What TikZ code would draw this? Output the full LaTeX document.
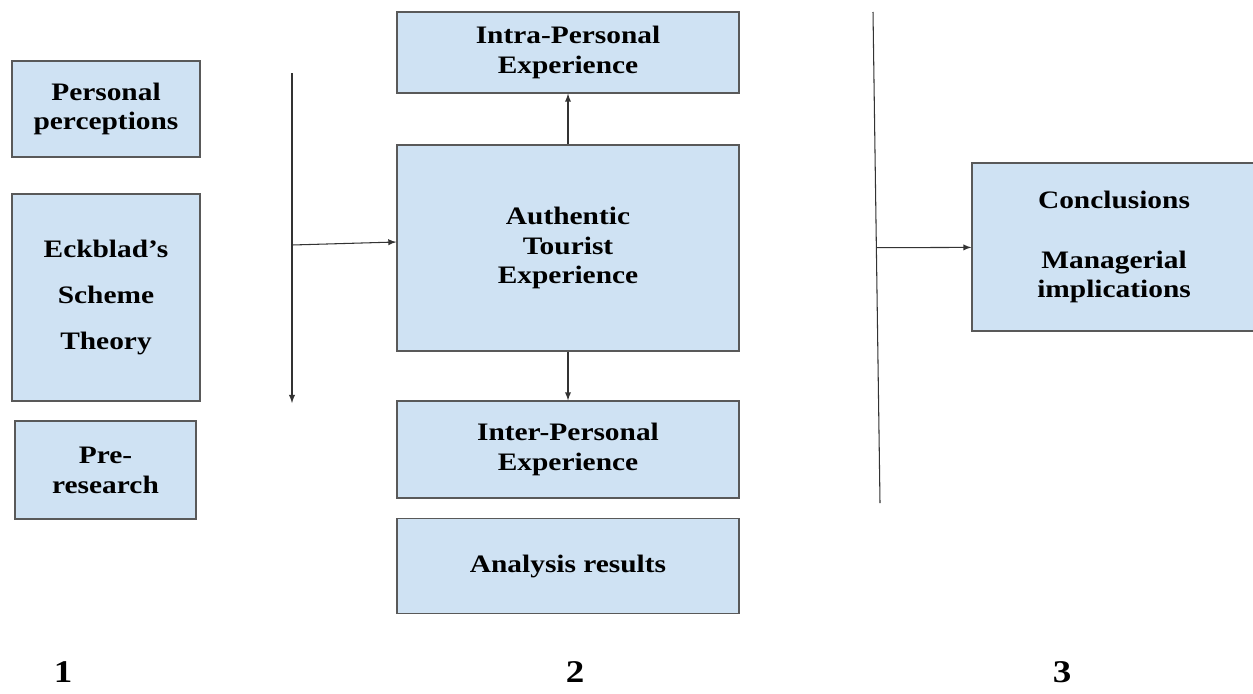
\documentclass[tikz,border=0pt]{standalone}
\usepackage{fontspec}
\setmainfont{Liberation Serif}[FakeStretch=1.17]
\usetikzlibrary{calc}
\definecolor{BoxBlue}{HTML}{CFE2F3}
\definecolor{BoxBorder}{HTML}{595959}
\definecolor{LineGray}{HTML}{333333}

\begin{document}
\begin{tikzpicture}[x=0.02cm,y=-0.02cm,>=latex]
    \tikzstyle{b}=[draw=BoxBorder,fill=BoxBlue,line width=0.75pt,inner sep=0pt,align=center,font=\fontsize{14.3}{17}\selectfont\bfseries]
    \tikzstyle{n}=[inner sep=0pt,font=\fontsize{18}{20}\selectfont\bfseries]
    \tikzstyle{l}=[draw=LineGray,line width=0.6pt]

    \useasboundingbox (0,0) rectangle (1253,693);

    % inputs
    \node[b,minimum width=3.76cm,minimum height=1.92cm] (perc) at (106,109) {Personal\\perceptions};
    \node[b,minimum width=3.76cm,minimum height=4.14cm] (scheme) at (106,297.5) {Eckblad’s\\[0.32cm]Scheme\\[0.32cm]Theory};
    \node[b,minimum width=3.62cm,minimum height=1.96cm] (preres) at (105.5,470) {Pre-\\research};

    % left bus
    \coordinate (lbus_top) at (292,73);
    \coordinate (lbus_bot) at (292,403);
    \coordinate (lbus_mid) at (292,245);
    \draw[l,->] (lbus_top) -- (lbus_bot);

    % authentic experience
    \node[b,minimum width=6.84cm,minimum height=4.12cm] (auth) at (568,248) {Authentic\\Tourist\\Experience};
    \draw[l,->] (lbus_mid) -- ([yshift=0.12cm]auth.west);

    % intra personal
    \node[b,minimum width=6.84cm,minimum height=1.62cm] (intra) at (568,52.5) {Intra-Personal\\Experience};
    \draw[l,->] (auth) -- (intra);

    % inter personal
    \node[b,minimum width=6.84cm,minimum height=1.94cm] (inter) at (568,449.5) {Inter-Personal\\Experience};
    \draw[l,->] (auth) -- (inter);

    % results
    \node[b,minimum width=6.84cm,minimum height=1.90cm] (results) at (568,566) {Analysis results};

    % right bus
    \coordinate (rbus_top) at (873,12);
    \coordinate (rbus_bot) at (880,503);
    \coordinate (rbus_mid) at ($(rbus_top)!0.48!(rbus_bot)$);
    \draw[l] (rbus_top) -- (rbus_bot);

    % conclusions
    \node[b,minimum width=5.68cm,minimum height=3.36cm] (concl) at (1114,247) {Conclusions\\[0.6cm]Managerial\\implications};
    \draw[l,->] (rbus_mid) -- (concl);

    % stages
    \node[n] (stage_1) at (63,672) {1};
    \node[n] (stage_2) at (575,672) {2};
    \node[n] (stage_3) at (1062,672) {3};

\end{tikzpicture}
\end{document}
